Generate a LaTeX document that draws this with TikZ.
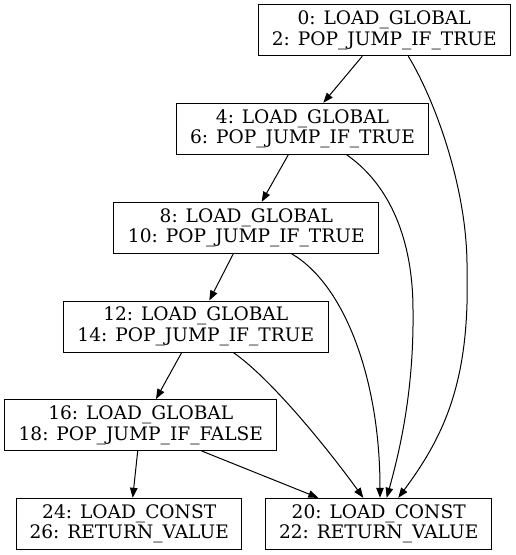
\documentclass[tikz,border=0pt]{standalone}
\usepackage{fontspec}
\setmainfont{DejaVu Serif}
\usetikzlibrary{arrows.meta}
\begin{document}
\begin{tikzpicture}[x=1pt,y=-1pt,
  blk/.style={draw, line width=1pt, inner sep=0pt, minimum height=51pt, align=center,
    font=\fontsize{18.6}{20.7}\selectfont},
  arr/.style={-{Triangle[length=10pt,width=7.5pt]}, line width=1pt}]
\useasboundingbox (0,0) rectangle (515,555);
\node[blk, minimum width=251.7pt] (n0) at (384.2,30.2) {0: LOAD\_GLOBAL\\2: POP\_JUMP\_IF\_TRUE};
\node[blk, minimum width=251.6pt] (n4) at (302.5,128.8) {4: LOAD\_GLOBAL\\6: POP\_JUMP\_IF\_TRUE};
\node[blk, minimum width=264.7pt] (n8) at (246.3,227.8) {8: LOAD\_GLOBAL\\10: POP\_JUMP\_IF\_TRUE};
\node[blk, minimum width=265pt] (n12) at (195.8,326.5) {12: LOAD\_GLOBAL\\14: POP\_JUMP\_IF\_TRUE};
\node[blk, minimum width=272.3pt] (n16) at (140.8,425) {16: LOAD\_GLOBAL\\18: POP\_JUMP\_IF\_FALSE};
\node[blk, minimum width=225pt] (n24) at (129.2,523.8) {24: LOAD\_CONST\\26: RETURN\_VALUE};
\node[blk, minimum width=226pt] (n20) at (378.7,523.8) {20: LOAD\_CONST\\22: RETURN\_VALUE};

\draw[arr] ([xshift=-21.9]n0.south) -- ([xshift=20.8]n4.north);
\draw[arr] ([xshift=24.1]n0.south) .. controls (435,100) and (468,190) .. (467,270)
  .. controls (470,380) and (445,435) .. ([xshift=19.6]n20.north);
\draw[arr] ([xshift=-14.2]n4.south) -- ([xshift=15.4]n8.north);
\draw[arr] ([xshift=44.2]n4.south) .. controls (390,185) and (413,240) .. (413,310)
  .. controls (414,390) and (400,450) .. ([xshift=8]n20.north);
\draw[arr] ([xshift=-13]n8.south) -- ([xshift=13.5]n12.north);
\draw[arr] ([xshift=45.4]n8.south) .. controls (345,285) and (380,380) .. ([xshift=1.3]n20.north);
\draw[arr] ([xshift=-14.1]n12.south) -- ([xshift=15.2]n16.north);
\draw[arr] ([xshift=37.5]n12.south) .. controls (270,378) and (325,445) .. ([xshift=-15.4]n20.north);
\draw[arr] ([xshift=-3.1]n16.south) -- ([xshift=3.5]n24.north);
\draw[arr] ([xshift=60.9]n16.south) -- ([xshift=-60.4]n20.north);
\end{tikzpicture}
\end{document}
